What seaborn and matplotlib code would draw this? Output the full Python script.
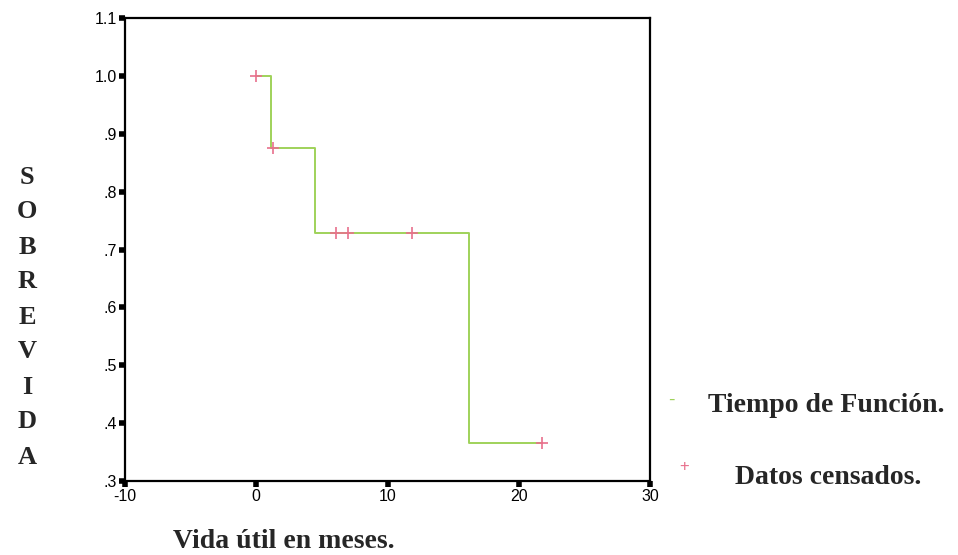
import matplotlib
matplotlib.use("Agg")
import matplotlib.pyplot as plt
import seaborn as sns
import pandas as pd

# Kaplan-Meier step curve
step_time = [0.0, 1.1, 4.5, 16.2, 21.8]
step_surv = [1.0, 0.875, 0.729, 0.365, 0.365]

# censored observations
cens_time = [0.0, 1.3, 6.1, 7.0, 11.9, 21.8]
cens_surv = [1.0, 0.875, 0.729, 0.729, 0.729, 0.365]

x_ticks = [-10, 0, 10, 20, 30]
y_ticks = [0.3, 0.4, 0.5, 0.6, 0.7, 0.8, 0.9, 1.0, 1.1]
y_labels = [".3", ".4", ".5", ".6", ".7", ".8", ".9", "1.0", "1.1"]

line_color = "#9fd25a"
cens_color = "#e8708c"

sns.set_style("ticks")
plt.rcParams["font.family"] = ["Liberation Sans", "DejaVu Sans"]
plt.rcParams["axes.unicode_minus"] = False

steps = pd.DataFrame({"t": step_time, "s": step_surv})
cens = pd.DataFrame({"t": cens_time, "s": cens_surv})

fig = plt.figure(figsize=(9.58, 5.55), dpi=100)
ax = fig.add_axes([125 / 958, 1 - 481 / 555, 525 / 958, 463 / 555])

sns.lineplot(data=steps, x="t", y="s", drawstyle="steps-post", color=line_color,
             linewidth=1.4, ax=ax, estimator=None, sort=False)
sns.scatterplot(data=cens, x="t", y="s", marker="+", color=cens_color, s=80,
                linewidth=1.2, ax=ax, zorder=3)

ax.set_xlim(-10, 30)
ax.set_ylim(0.3, 1.1)
ax.set_xticks(x_ticks)
ax.set_yticks(y_ticks)
ax.set_yticklabels(y_labels)
ax.set_xlabel("")
ax.set_ylabel("")
ax.tick_params(direction="out", length=4, width=4, labelsize=11.5, colors="black", pad=2)
for sp in ax.spines.values():
    sp.set_linewidth(1.6)
    sp.set_color("black")
    sp.set_visible(True)

serif = ["Liberation Serif", "DejaVu Serif"]

# stacked vertical y-axis label
for i, ch in enumerate("SOBREVIDA"):
    fig.text(27 / 958, 1 - (177 + i * 35) / 555, ch, family=serif, fontweight="bold",
             fontsize=19, ha="center", va="center")

fig.text(173 / 958, 1 - 541 / 555, "Vida útil en meses.", family=serif,
         fontweight="bold", fontsize=20, ha="left", va="center")

# legend drawn outside the axes
fig.text(671 / 958, 1 - 400 / 555, "-", color=line_color, fontsize=14,
         ha="center", va="center")
fig.text(708 / 958, 1 - 405 / 555, "Tiempo de Función.", family=serif,
         fontweight="bold", fontsize=20, ha="left", va="center")
fig.text(684 / 958, 1 - 466 / 555, "+", color=cens_color, fontsize=12,
         ha="center", va="center")
fig.text(735 / 958, 1 - 477 / 555, "Datos censados.", family=serif,
         fontweight="bold", fontsize=20, ha="left", va="center")

fig.savefig("out.png", dpi=100, facecolor="white")
